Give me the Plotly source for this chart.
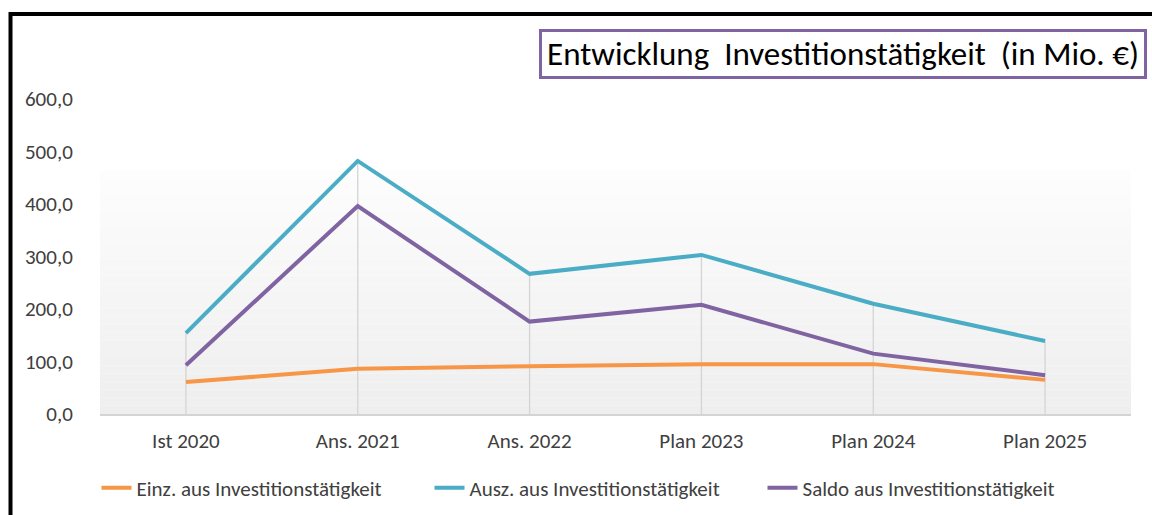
import plotly.graph_objects as go

categories = ["Ist 2020", "Ans. 2021", "Ans. 2022", "Plan 2023", "Plan 2024", "Plan 2025"]
einz = [61, 86, 91, 95, 95, 65]
ausz = [154, 482, 267, 303, 210, 139]
saldo = [93, 396, 176, 208, 115, 74]
y_ticks = [0, 100, 200, 300, 400, 500, 600]

names = ["Einz. aus Investitionstätigkeit", "Ausz. aus Investitionstätigkeit", "Saldo aus Investitionstätigkeit"]
colors = ["#F79646", "#4BACC6", "#8064A2"]

FONT = "Calibri, Carlito, Lato, sans-serif"
W, H = 1152, 515
L, R, T, B = 100, 21, 99, 101
plot_h = H - T - B

fig = go.Figure()

# drop lines from highest point to axis
xs, ys = [], []
for i, c in enumerate(categories):
    top = max(einz[i], ausz[i], saldo[i])
    xs += [c, c, None]
    ys += [0, top, None]
fig.add_trace(go.Scatter(x=xs, y=ys, mode="lines", line=dict(color="#d4d4d4", width=1.3),
                         showlegend=False, hoverinfo="skip"))

for name, vals, col in zip(names, [einz, ausz, saldo], colors):
    fig.add_trace(go.Scatter(x=categories, y=vals, mode="lines", name=name,
                             line=dict(color=col, width=4)))

shapes = []
# gradient background band
n = 30
top_val = 465
for k in range(n):
    y0 = top_val * k / n
    y1 = top_val * (k + 1) / n
    t = k / (n - 1)
    g = int(round(0xEE + (0xFD - 0xEE) * t))
    shapes.append(dict(type="rect", xref="paper", yref="y", x0=0, x1=1, y0=y0, y1=y1,
                       fillcolor=f"rgb({g},{g},{g})", line=dict(width=0), layer="below"))

def px_x(p):
    return (p - L) / (W - L - R)

def px_y(p):
    return (H - B - p) / plot_h

# outer black border
shapes.append(dict(type="rect", xref="paper", yref="paper",
                   x0=px_x(10.5), x1=px_x(1170), y0=px_y(14), y1=px_y(540),
                   line=dict(color="black", width=4), fillcolor="rgba(0,0,0,0)"))

fig.update_layout(
    width=W, height=H,
    margin=dict(l=L, r=R, t=T, b=B, autoexpand=False),
    paper_bgcolor="white", plot_bgcolor="white",
    separators=", ",
    font=dict(family=FONT, size=21, color="#404040"),
    shapes=shapes,
    showlegend=True,
    legend=dict(orientation="h", xref="container", yref="container",
                x=596 / W, xanchor="center", y=1 - 488 / H, yanchor="middle",
                font=dict(family=FONT, size=21, color="#404040"),
                entrywidth=288, entrywidthmode="pixels"),
    xaxis=dict(type="category", range=[-0.5, 5.5], showgrid=False, showline=True,
               linecolor="#d4d4d4", linewidth=2, ticks="outside", ticklen=7,
               tickcolor="rgba(0,0,0,0)", tickfont=dict(family=FONT, size=21, color="#404040"),
               zeroline=False, fixedrange=True, automargin=False),
    yaxis=dict(range=[0, 600], tickvals=y_ticks, tickformat=".1f", showgrid=False,
               zeroline=False, showline=False, ticks="outside", ticklen=22,
               tickcolor="rgba(0,0,0,0)", tickfont=dict(family=FONT, size=21, color="#404040"),
               fixedrange=True, automargin=False),
    annotations=[dict(text="Entwicklung  Investitionstätigkeit  (in Mio. €)",
                      xref="paper", yref="paper", x=px_x(1147), y=px_y(29),
                      xanchor="right", yanchor="top", showarrow=False,
                      font=dict(family=FONT, size=33, color="black"),
                      bordercolor="#8064A2", borderwidth=3, borderpad=2,
                      bgcolor="white", width=598, height=40)],
)

fig.write_html("out.html", config={"displayModeBar": False},
               post_script="document.body.style.margin='0';")
